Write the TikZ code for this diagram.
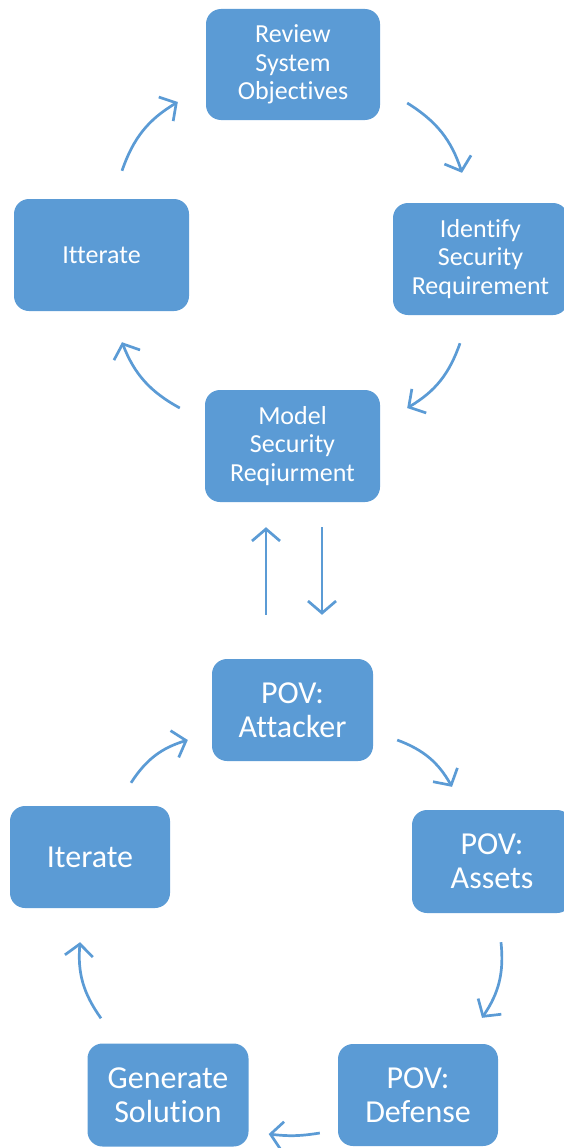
\documentclass[tikz,border=0pt]{standalone}
\usepackage{fontspec}
\setmainfont{Carlito}[Ligatures={NoCommon,NoContextual}]
\usetikzlibrary{arrows.meta}
\definecolor{boxblue}{HTML}{5B9BD5}
\tikzset{
  stage/.style={fill=boxblue, draw=none, rounded corners=15pt, text=white,
    align=center, inner sep=0pt, font=\fontsize{26}{28.5}\selectfont},
  bigstage/.style={stage, font=\fontsize{32}{34}\selectfont},
  arr/.style={draw=boxblue, line width=2.7pt,
    -{Straight Barb[length=12pt,width=28pt,line width=2.7pt]}}
}
\begin{document}
\begin{tikzpicture}[x=1pt,y=-1pt]
\useasboundingbox (0,0) rectangle (564,1148);
% upper cycle
\node[stage, minimum width=174pt, minimum height=111pt] (rev) at (293,64.5) {Review\\System\\Objectives};
\node[stage, minimum width=175pt, minimum height=112pt] (ide) at (480.5,259) {Identify\\Security\\Requirement};
\node[stage, minimum width=175pt, minimum height=112pt] (itt) at (101.5,255) {Itterate};
\node[stage, minimum width=175pt, minimum height=112pt] (mod) at (292.5,446) {Model\\Security\\Reqiurment};
% lower cycle
\node[bigstage, minimum width=161pt, minimum height=102pt] (att) at (292.5,710) {POV:\\Attacker};
\node[bigstage, minimum width=160pt, minimum height=102pt] (iter) at (90,857) {Iterate};
\node[bigstage, minimum width=160pt, minimum height=103pt] (ass) at (492,861.5) {POV:\\Assets};
\node[bigstage, minimum width=160pt, minimum height=102pt] (def) at (418,1095) {POV:\\Defense};
\node[bigstage, minimum width=161pt, minimum height=103pt] (gen) at (168,1095) {Generate\\Solution};
% upper cycle arrows
\draw[arr] ([shift={(20.5,-28)}]itt.north) to[bend left=20] ([shift={(-28,37.5)}]rev.west);
\draw[arr] ([shift={(27,38.5)}]rev.east) to[bend left=20] ([shift={(-18.5,-30)}]ide.north);
\draw[arr] ([shift={(-20.5,28)}]ide.south) to[bend left=20] ([shift={(27,-38)}]mod.east);
\draw[arr] ([shift={(-25,-38)}]mod.west) to[bend left=20] ([shift={(20.5,31)}]itt.south);
% link between the cycles
\draw[arr] ([shift={(-26.5,-44)}]att.north) -- ([shift={(-26.5,25)}]mod.south);
\draw[arr] ([shift={(29.5,25)}]mod.south) -- ([shift={(29.5,-44)}]att.north);
% lower cycle arrows
\draw[arr] ([shift={(24,30)}]att.east) to[bend left=20] ([shift={(-40,-23)}]ass.north);
\draw[arr] ([shift={(9,29)}]ass.south) to[bend left=20] ([shift={(64,-26)}]def.north);
\draw[arr] ([shift={(-18,38)}]def.west) to[bend left=8] ([shift={(20,39)}]gen.east);
\draw[arr] ([shift={(-67,-25)}]gen.north) to[bend left=20] ([shift={(-10,34)}]iter.south);
\draw[arr] ([shift={(41,-23)}]iter.north) to[bend left=20] ([shift={(-24,30)}]att.west);
\end{tikzpicture}
\end{document}
